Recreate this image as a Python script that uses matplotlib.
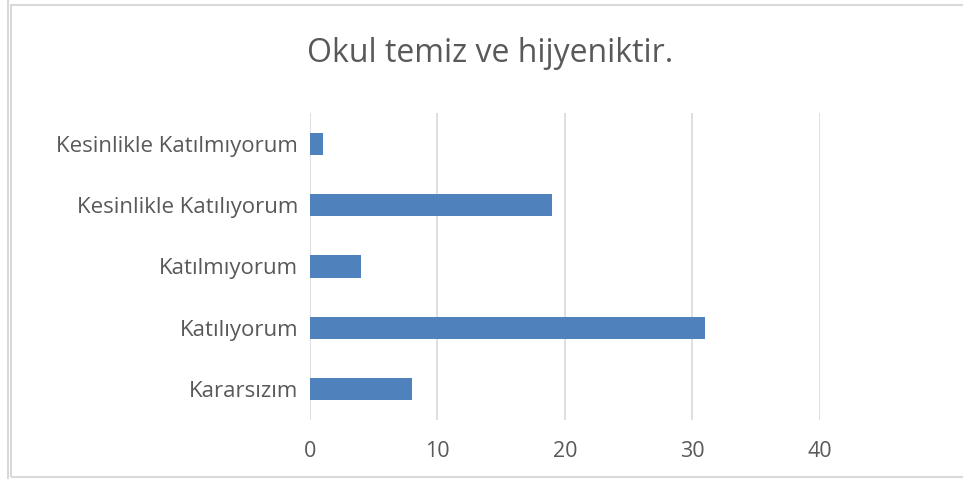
import matplotlib
matplotlib.use('Agg')
import matplotlib.pyplot as plt
from matplotlib.patches import Rectangle
from matplotlib.lines import Line2D

plt.rcParams['font.family'] = ['Open Sans', 'DejaVu Sans']

categories = ['Kararsızım', 'Katılıyorum', 'Katılmıyorum',
              'Kesinlikle Katılıyorum', 'Kesinlikle Katılmıyorum']
counts = [8, 31, 4, 19, 1]
xticks = [0, 10, 20, 30, 40]

fig = plt.figure(figsize=(9.63, 4.79), dpi=100)
ax = fig.add_axes([0.3219, 0.1232, 0.5296, 0.641])

ax.barh(categories, counts, height=0.36, color='#4F81BD', zorder=3)

ax.set_xlim(0, 40)
ax.set_ylim(-0.5, len(categories) - 0.5)
ax.set_xticks(xticks)
ax.grid(axis='x', color='#D9D9D9', linewidth=1.2, zorder=0)
for s in ax.spines.values():
    s.set_visible(False)
ax.tick_params(length=0, colors='#595959')
ax.tick_params(axis='y', labelsize=16, pad=8.5)
ax.tick_params(axis='x', labelsize=15.5, pad=15)

fig.text(0.509, 0.889, 'Okul temiz ve hijyeniktir.', ha='center', va='center',
         fontsize=23, color='#595959')

# chart border lines
fig.add_artist(Rectangle((10.5 / 963, 2 / 479), 960 / 963, 472 / 479,
                         transform=fig.transFigure, fill=False,
                         edgecolor='#D9D9D9', linewidth=1.5))
fig.add_artist(Line2D([7.5 / 963, 7.5 / 963], [0, 1], transform=fig.transFigure,
                      color='#D9D9D9', linewidth=1.5))

fig.savefig('out.png', dpi=100)
